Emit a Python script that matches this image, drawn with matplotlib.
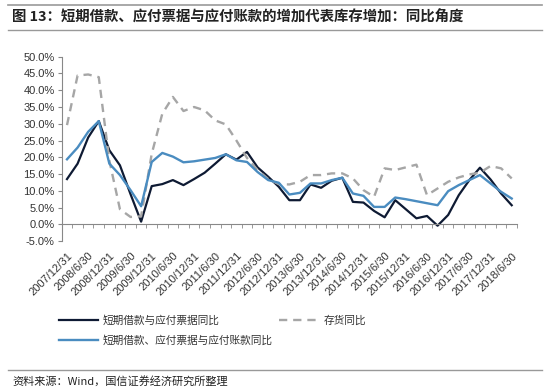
import matplotlib
matplotlib.use("Agg")
import matplotlib.pyplot as plt
import numpy as np
import pandas as pd
from matplotlib.lines import Line2D

plt.rcParams['font.family'] = ['Liberation Sans', 'Noto Sans CJK SC', 'DejaVu Sans']

# quarter ends, 2007/12/31 .. 2018/6/30
dates = [f'{d.year}/{d.month}/{d.day}'
         for d in pd.date_range('2007-12-31', '2018-06-30', freq='QE')]

loans_notes = [13.5, 18.1, 25.9, 30.8, 22.1, 17.6, 9.0, 0.8, 11.4, 12.0,
               13.2, 11.7, 13.5, 15.4, 18.1, 20.9, 19.3, 21.6, 17.0, 14.2,
               11.2, 7.2, 7.2, 11.9, 10.9, 13.0, 13.9, 6.7, 6.5, 4.0,
               2.1, 7.2, 4.5, 1.8, 2.5, -0.4, 2.8, 8.7, 13.2, 16.9,
               13.4, 9.2, 5.7]
loans_notes_payables = [19.4, 22.9, 27.6, 30.8, 18.1, 14.7, 10.2, 5.4, 18.6, 21.3,
                        20.2, 18.5, 18.8, 19.3, 19.8, 20.9, 19.1, 18.6, 15.6, 13.2,
                        12.4, 8.9, 9.4, 12.2, 12.2, 13.2, 13.9, 9.2, 8.5, 5.2,
                        5.2, 8.0, 7.5, 6.9, 6.3, 5.7, 9.9, 11.7, 13.2, 14.7,
                        12.2, 9.7, 7.7]
inventory = [29.6, 44.4, 44.7, 43.9, 19.0, 4.5, 2.2, 2.4, 21.0, 33.0,
             38.0, 33.8, 35.0, 34.0, 31.0, 29.8, 25.0, 19.8, 16.2, 13.5,
             12.0, 11.9, 12.7, 14.7, 14.7, 15.2, 15.2, 13.7, 10.2, 8.2,
             16.7, 16.2, 17.0, 17.8, 8.7, 10.7, 12.7, 14.0, 14.9, 15.4,
             17.4, 16.7, 13.7]

labels = ['短期借款与应付票据同比', '短期借款、应付票据与应付账款同比', '存货同比']

fig = plt.figure(figsize=(5.5, 3.89), dpi=100)
ax = fig.add_axes([0.1122, 0.3802, 0.8278, 0.474])

x = np.arange(len(dates))
dark = '#0e1a33'
blue = '#4a8cc0'
grey = '#a6a6a6'
l1, = ax.plot(x, loans_notes, color=dark, lw=1.6)
l3, = ax.plot(x, inventory, color=grey, lw=1.7, ls=(0, (3.5, 2.5)))
l2, = ax.plot(x, loans_notes_payables, color=blue, lw=1.7)

ax.set_xlim(-0.5, len(dates) - 0.5)
ax.set_ylim(-5, 50)
yt = np.arange(-5, 51, 5)
ax.set_yticks(yt)
ax.set_yticklabels([f'{v:.1f}%' for v in yt], fontsize=8, color='#333333')

for s in ['top', 'right']:
    ax.spines[s].set_visible(False)
ax.spines['left'].set_color('#888888')
ax.spines['bottom'].set_color('#888888')
ax.spines['bottom'].set_position(('data', 0))
ax.tick_params(axis='y', length=3, color='#888888', pad=2)

# labels every half year, tick marks between quarters
ax.set_xticks(x[::2])
ax.set_xticklabels(dates[::2], rotation=45, ha='right', rotation_mode='anchor',
                   fontsize=8, color='#333333')
ax.set_xticks(np.arange(-0.5, len(dates), 1), minor=True)
ax.tick_params(axis='x', which='major', length=0, pad=19)
ax.tick_params(axis='x', which='minor', length=3, color='#888888', direction='out')

leg = fig.legend([l1, l2, l3], labels, ncol=2, loc='upper left',
                 bbox_to_anchor=(0.09, 0.215), frameon=False,
                 prop={'family': ['Noto Sans CJK SC'], 'size': 7.7},
                 handlelength=3.6, handletextpad=0.5, columnspacing=0.6,
                 labelspacing=0.85)
for t in leg.get_texts():
    t.set_color('#333333')

# header and footer
fig.add_artist(Line2D([0.015, 0.985], [0.987, 0.987], color='#999999', lw=1.2))
fig.add_artist(Line2D([0.015, 0.985], [0.922, 0.922], color='#999999', lw=1.0))
fig.text(0.022, 0.955, '图 13：短期借款、应付票据与应付账款的增加代表库存增加：同比角度',
         fontsize=10.4, fontweight='bold', va='center', color='#222222',
         family=['Noto Sans CJK SC', 'DejaVu Sans'])
fig.add_artist(Line2D([0.015, 0.985], [0.049, 0.049], color='#999999', lw=1.0))
fig.text(0.022, 0.02, '资料来源：Wind，国信证券经济研究所整理', fontsize=8,
         va='center', color='#222222', family=['Noto Sans CJK SC', 'DejaVu Sans'])

fig.savefig('out.png', dpi=100)
